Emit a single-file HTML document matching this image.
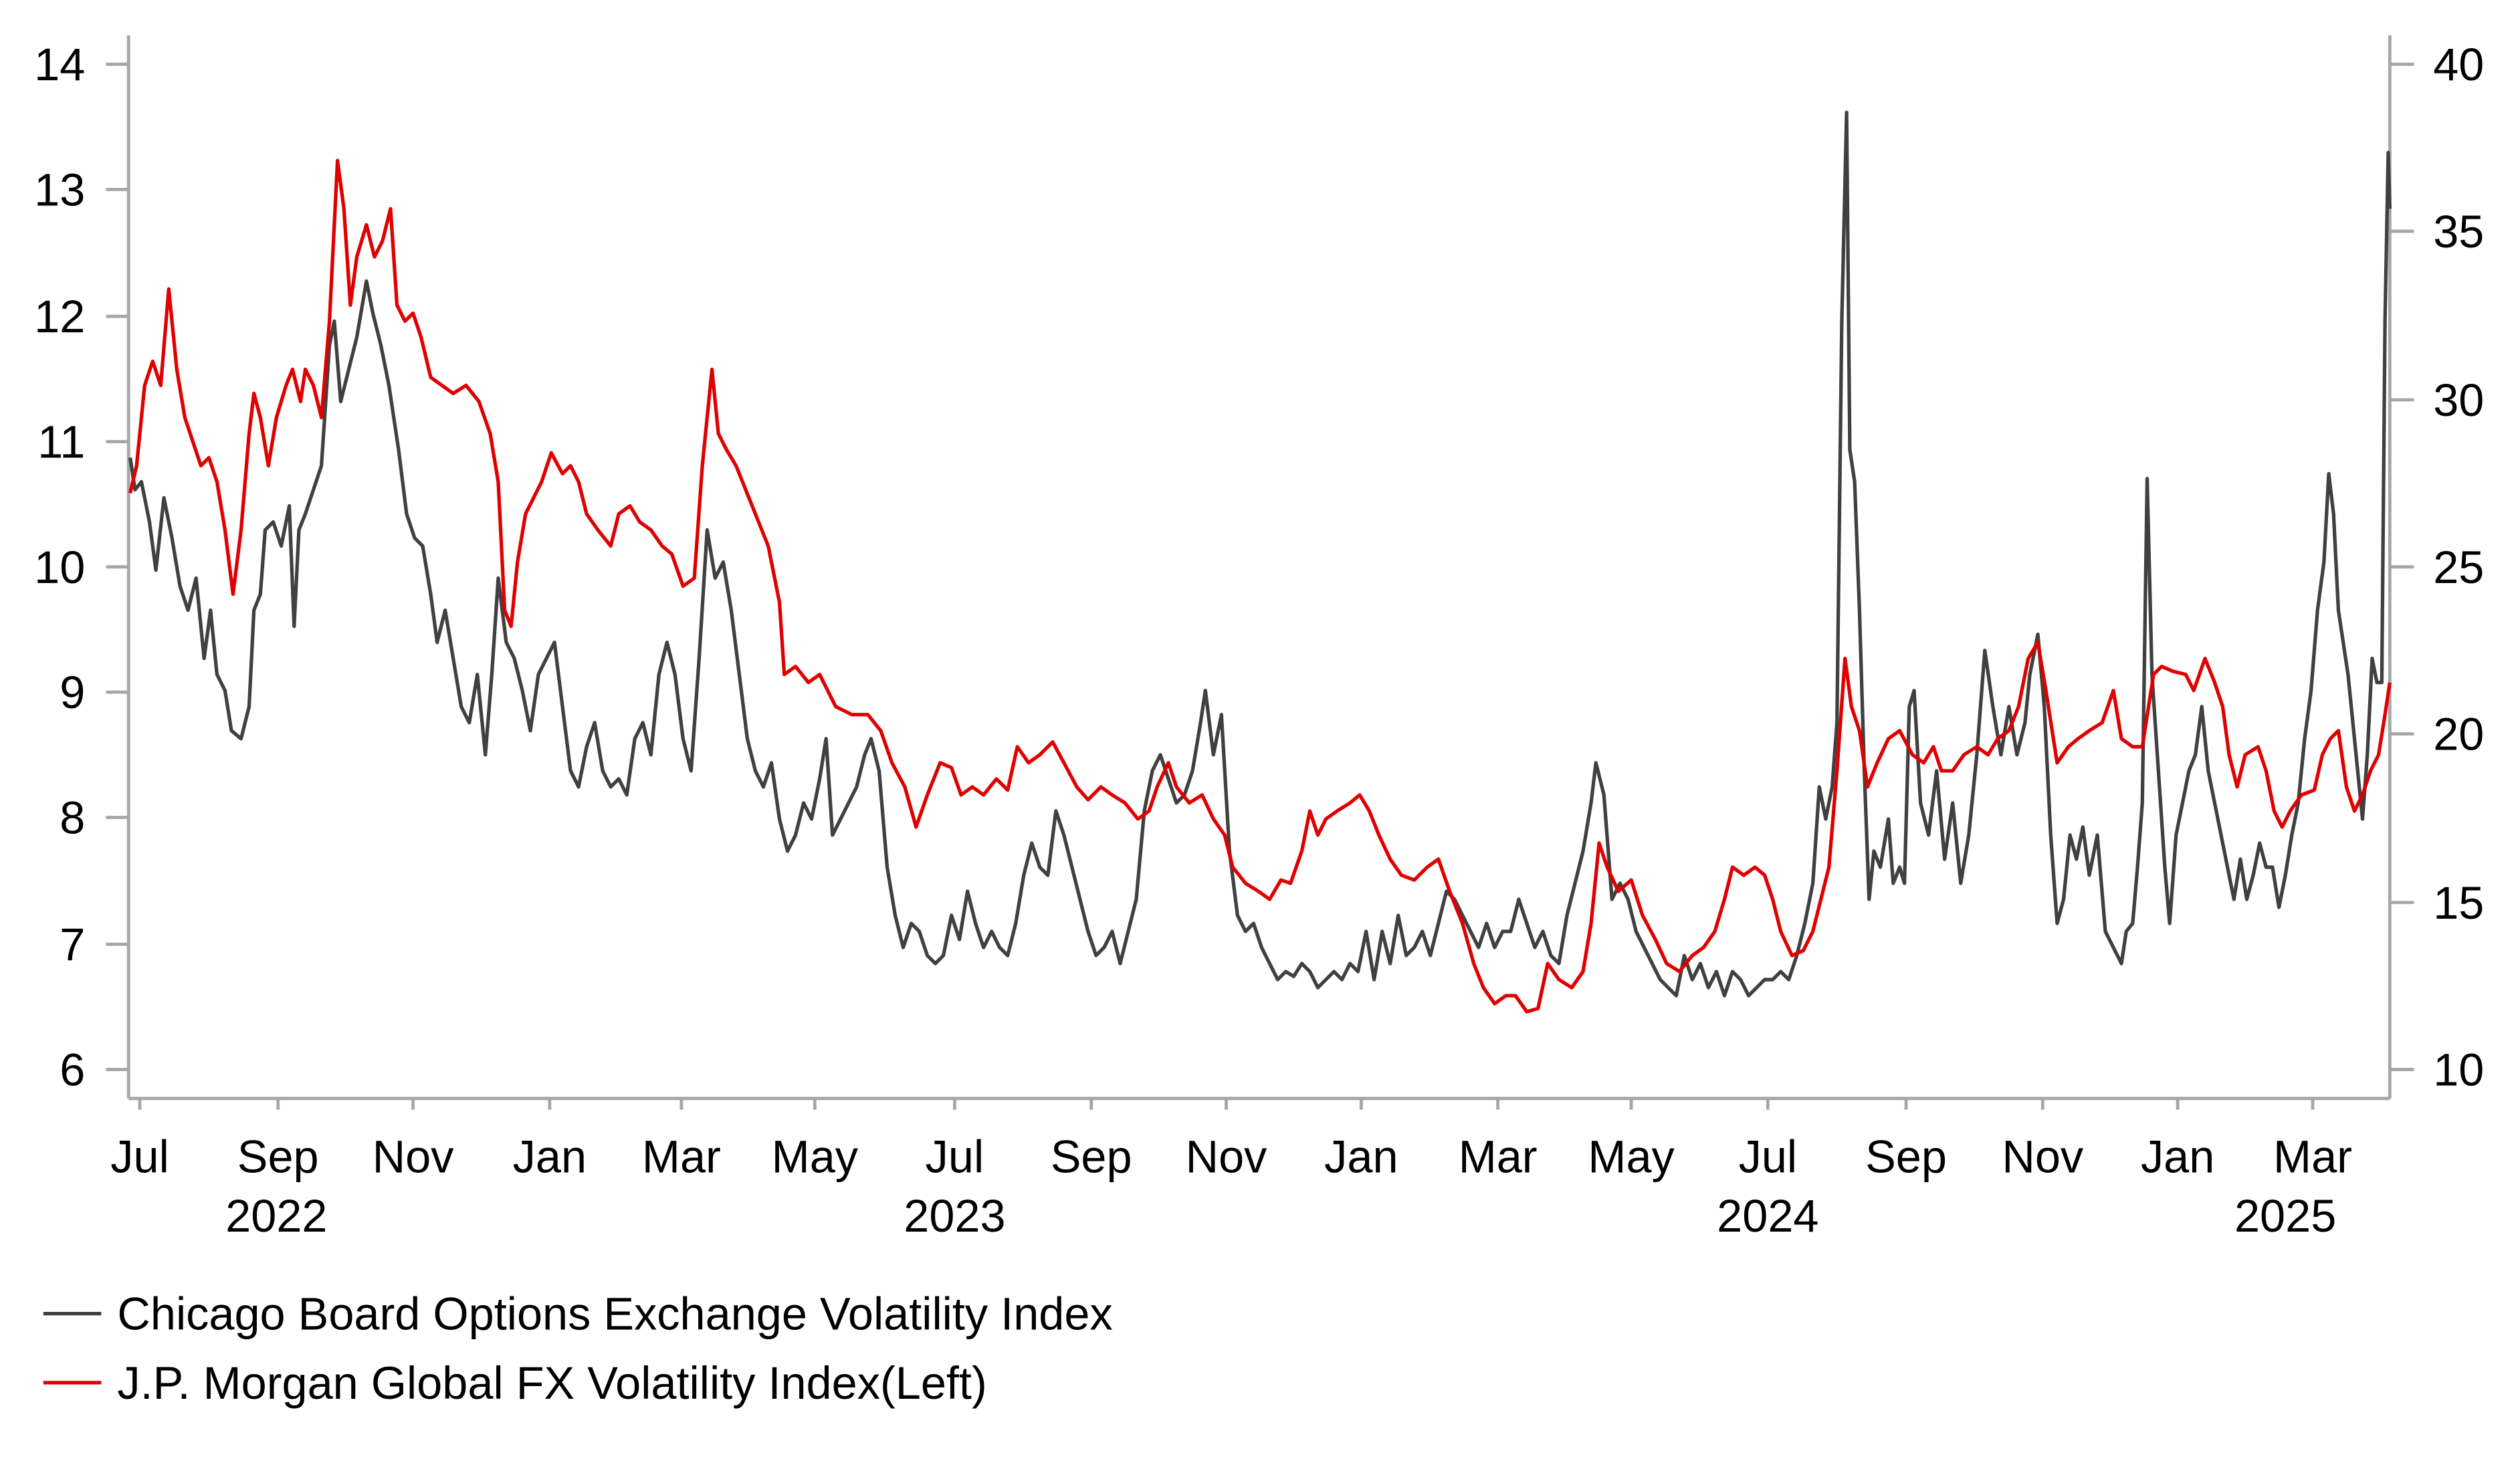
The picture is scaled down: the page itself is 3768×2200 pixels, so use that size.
<!DOCTYPE html>
<html><head><meta charset="utf-8"><style>
html,body{margin:0;padding:0;background:#fff;width:3768px;height:2200px;overflow:hidden}
svg{display:block}
text{font-family:"Liberation Sans",Arial,sans-serif;fill:#000;font-size:28.5px}
</style></head><body>
<svg width="3768" height="2200" viewBox="0 0 1568 916" preserveAspectRatio="none">
<g stroke="#a6a6a6" stroke-width="2" fill="none">
<line x1="80" y1="22" x2="80" y2="684"/>
<line x1="1487" y1="22" x2="1487" y2="684"/>
<line x1="80" y1="684" x2="1487" y2="684"/>
<path d="M66 40H80M66 118H80M66 197H80M66 275H80M66 353H80M66 431H80M66 509H80M66 588H80M66 666H80"/>
<path d="M1487 40H1502M1487 144H1502M1487 249H1502M1487 353H1502M1487 457H1502M1487 562H1502M1487 666H1502"/>
<path d="M87 684V691M173 684V691M257 684V691M342 684V691M424 684V691M507 684V691M594 684V691M679 684V691M763 684V691M847 684V691M932 684V691M1015 684V691M1100 684V691M1186 684V691M1271 684V691M1355 684V691M1439 684V691"/>
</g>
<g text-anchor="end">
<text x="53" y="50">14</text><text x="53" y="128">13</text><text x="53" y="207">12</text><text x="53" y="285">11</text><text x="53" y="363">10</text><text x="53" y="441">9</text><text x="53" y="519">8</text><text x="53" y="598">7</text><text x="53" y="676">6</text>
</g>
<g>
<text x="1514" y="50">40</text><text x="1514" y="154">35</text><text x="1514" y="259">30</text><text x="1514" y="363">25</text><text x="1514" y="467">20</text><text x="1514" y="572">15</text><text x="1514" y="676">10</text>
</g>
<g text-anchor="middle">
<text x="87" y="730">Jul</text><text x="173" y="730">Sep</text><text x="257" y="730">Nov</text><text x="342" y="730">Jan</text><text x="424" y="730">Mar</text><text x="507" y="730">May</text><text x="594" y="730">Jul</text><text x="679" y="730">Sep</text><text x="763" y="730">Nov</text><text x="847" y="730">Jan</text><text x="932" y="730">Mar</text><text x="1015" y="730">May</text><text x="1100" y="730">Jul</text><text x="1186" y="730">Sep</text><text x="1271" y="730">Nov</text><text x="1355" y="730">Jan</text><text x="1439" y="730">Mar</text>
<text x="172" y="767">2022</text><text x="594" y="767">2023</text><text x="1100" y="767">2024</text><text x="1422" y="767">2025</text>
</g>
<polyline fill="none" stroke="#404040" stroke-width="2.2" stroke-linejoin="round" points="81,285 84,305 88,300 93,325 97,355 102,310 107,335 112,365 117,380 122,360 127,410 131,380 135,420 140,430 144,455 150,460 155,440 158,380 162,370 165,330 170,325 175,340 180,315 183,390 186,330 190,320 195,305 200,290 205,215 208,200 212,250 217,230 222,210 228,175 232,195 237,215 242,240 248,280 253,320 258,335 263,340 268,370 272,400 277,380 282,410 287,440 292,450 297,420 302,470 306,420 310,360 315,400 320,410 325,430 330,455 335,420 340,410 345,400 350,440 355,480 360,490 365,465 370,450 375,480 380,490 385,485 390,495 395,460 400,450 405,470 410,420 415,400 420,420 425,460 430,480 435,410 440,330 445,360 450,350 455,380 460,420 465,460 470,480 475,490 480,475 485,510 490,530 495,520 500,500 505,510 510,485 514,460 518,520 523,510 528,500 533,490 538,470 542,460 547,480 552,540 557,570 562,590 567,575 572,580 577,595 582,600 587,595 592,570 597,585 602,555 607,575 612,590 617,580 622,590 627,595 632,575 637,545 642,525 647,540 652,545 657,505 662,520 667,540 672,560 677,580 682,595 687,590 692,580 697,600 702,580 707,560 712,505 717,480 722,470 727,485 732,500 737,495 742,480 747,450 750,430 755,470 760,445 765,530 770,570 775,580 780,575 785,590 790,600 795,610 800,605 805,608 810,600 815,605 820,615 825,610 830,605 835,610 840,600 845,605 850,580 855,610 860,580 865,600 870,570 875,595 880,590 885,580 890,595 895,575 900,555 905,560 910,570 915,580 920,590 925,575 930,590 935,580 940,580 945,560 950,575 955,590 960,580 965,595 970,600 975,570 980,550 985,530 990,500 993,475 998,495 1003,560 1008,550 1013,560 1018,580 1023,590 1028,600 1033,610 1038,615 1043,620 1048,595 1053,610 1058,600 1063,615 1068,605 1073,620 1078,605 1083,610 1088,620 1093,615 1098,610 1103,610 1108,605 1113,610 1118,595 1123,575 1128,550 1132,490 1136,510 1140,490 1143,450 1146,200 1149,70 1151,280 1154,300 1157,380 1160,480 1163,560 1166,530 1170,540 1175,510 1178,550 1182,540 1185,550 1188,440 1191,430 1195,500 1200,520 1205,480 1210,535 1215,500 1220,550 1225,520 1230,470 1235,405 1240,440 1245,470 1250,440 1255,470 1260,450 1263,420 1268,395 1272,440 1276,520 1280,575 1284,560 1288,520 1292,535 1296,515 1300,545 1305,520 1310,580 1315,590 1320,600 1323,580 1327,575 1330,540 1333,500 1336,298 1339,420 1343,480 1347,540 1350,575 1354,520 1358,500 1362,480 1366,470 1370,440 1374,480 1378,500 1382,520 1386,540 1390,560 1394,535 1398,560 1402,545 1406,525 1410,540 1414,540 1418,565 1422,545 1426,520 1430,500 1434,460 1438,430 1442,380 1446,350 1449,295 1452,320 1455,380 1458,400 1461,420 1464,450 1467,480 1470,510 1473,470 1476,410 1479,425 1482,425 1484,200 1486,95 1487,130"/>
<polyline fill="none" stroke="#e00000" stroke-width="2.2" stroke-linejoin="round" points="81,307 85,290 90,240 95,225 100,240 105,180 110,230 115,260 120,275 125,290 130,285 135,300 140,330 145,370 150,330 155,270 158,245 162,260 167,290 172,260 178,240 182,230 187,250 190,230 195,240 200,260 205,200 210,100 214,130 218,190 222,160 228,140 233,160 238,150 243,130 247,190 252,200 257,195 262,210 268,235 275,240 282,245 290,240 298,250 305,270 310,300 314,380 318,390 322,350 327,320 332,310 337,300 343,282 350,295 355,290 360,300 365,320 372,330 380,340 385,320 392,315 398,325 405,330 412,340 418,345 425,365 432,360 437,290 443,230 447,270 452,280 458,290 464,305 470,320 478,340 485,375 488,420 495,415 503,425 510,420 515,430 520,440 530,445 540,445 548,455 555,475 563,490 570,515 577,495 585,475 592,478 598,495 605,490 612,495 620,485 627,492 633,465 640,475 647,470 655,462 662,475 670,490 677,498 685,490 692,495 700,500 708,510 715,505 720,490 727,475 732,490 740,500 748,495 755,510 762,520 767,540 775,550 783,555 790,560 797,548 803,550 810,530 815,505 820,520 825,510 832,505 840,500 846,495 852,505 858,520 865,535 872,545 880,548 888,540 895,535 902,555 910,575 917,600 923,615 930,625 937,620 943,620 950,630 957,628 963,600 970,610 978,615 985,605 990,575 995,525 1000,540 1007,555 1015,548 1022,570 1030,585 1037,600 1045,605 1053,595 1060,590 1067,580 1073,560 1078,540 1085,545 1092,540 1098,545 1103,560 1108,580 1115,595 1122,592 1128,580 1133,560 1138,540 1143,480 1148,410 1152,440 1157,455 1162,490 1168,475 1175,460 1182,455 1190,470 1197,475 1203,465 1208,480 1215,480 1222,470 1230,465 1237,470 1243,460 1250,455 1256,440 1262,410 1268,400 1273,430 1280,475 1287,465 1293,460 1300,455 1308,450 1315,430 1320,460 1327,465 1333,465 1340,420 1345,415 1352,418 1360,420 1365,430 1372,410 1378,425 1383,440 1387,470 1392,490 1397,470 1405,465 1410,480 1415,505 1420,515 1425,505 1432,495 1440,492 1445,470 1450,460 1455,455 1460,490 1465,505 1470,495 1475,480 1480,470 1484,445 1487,425"/>
<line x1="27" y1="818" x2="63" y2="818" stroke="#404040" stroke-width="2.2"/>
<line x1="27" y1="861" x2="63" y2="861" stroke="#e00000" stroke-width="2.2"/>
<text x="73" y="828">Chicago Board Options Exchange Volatility Index</text>
<text x="73" y="871">J.P. Morgan Global FX Volatility Index(Left)</text>
</svg>
</body></html>
